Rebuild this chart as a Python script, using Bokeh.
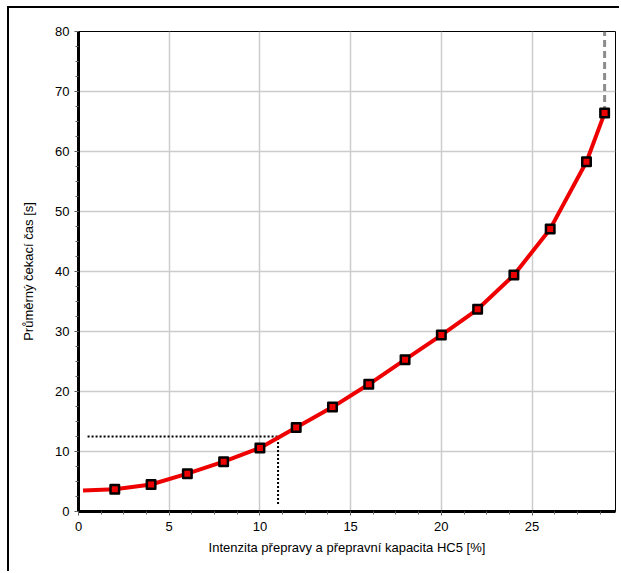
from bokeh.plotting import figure
from bokeh.models import Range1d, SingleIntervalTicker
from bokeh.embed import file_html
from bokeh.resources import INLINE

# data
pts_x = [2, 4, 6, 8, 10, 12, 14, 16, 18, 20, 22, 24, 26, 28, 29]
pts_y = [3.7, 4.5, 6.3, 8.3, 10.6, 14.0, 17.4, 21.2, 25.3, 29.4, 33.7, 39.4, 47.1, 58.3, 66.4]
curve_x = [0.25] + pts_x
curve_y = [3.5] + pts_y
ref_x = [0.5, 11, 11]
ref_y = [12.5, 12.5, 1.0]
limit_x = [29, 29]
limit_y = [66.4, 80]
x_label = "Intenzita přepravy a přepravní kapacita HC5 [%]"
y_label = "Průměrný čekací čas [s]"

FONT = "Liberation Sans"

p = figure(width=612, height=565, output_backend="svg", toolbar_location=None,
           x_range=Range1d(0, 29.6), y_range=Range1d(0, 80),
           min_border_left=69, min_border_right=6, min_border_top=23, min_border_bottom=62)
p.styles = {"border-left": "2px solid black", "border-top": "2px solid black",
            "margin-left": "7px", "margin-top": "6px"}

p.outline_line_color = "black"
p.outline_line_width = 1
p.background_fill_color = "white"
p.border_fill_color = "white"

p.xaxis.ticker = SingleIntervalTicker(interval=5, num_minor_ticks=4)
p.yaxis.ticker = SingleIntervalTicker(interval=10, num_minor_ticks=4)
for ax in (p.xaxis, p.yaxis):
    ax.axis_line_width = 3
    ax.axis_line_color = "black"
    ax.major_tick_line_color = "#555555"
    ax.minor_tick_line_color = "#666666"
    ax.major_tick_out = 4
    ax.major_tick_in = 0
    ax.minor_tick_out = 3
    ax.minor_tick_in = 0
    ax.major_label_text_font = FONT
    ax.major_label_text_font_size = "13px"
    ax.major_label_text_color = "black"
    ax.axis_label_text_font = FONT
    ax.axis_label_text_font_size = "13px"
    ax.axis_label_text_font_style = "normal"
    ax.axis_label_text_color = "black"
p.xaxis.axis_label = x_label
p.yaxis.axis_label = y_label
p.xaxis.major_label_standoff = 6
p.xaxis.axis_label_standoff = 6
p.yaxis.major_label_standoff = 5
p.yaxis.axis_label_standoff = 16

p.grid.grid_line_color = "#cccccc"
p.grid.grid_line_width = 1.5

p.line(ref_x, ref_y, line_color="black", line_width=2, line_dash="2 2")
p.line(limit_x, limit_y, line_color="#8c8c8c", line_width=3, line_dash="7 4")
p.line(curve_x, curve_y, line_color="#ee0000", line_width=4)
p.scatter(pts_x, pts_y, marker="square", size=8.5, fill_color="#ee0000",
          line_color="black", line_width=2.5, line_join="round")

open("out.html", "w").write(file_html(p, INLINE))
